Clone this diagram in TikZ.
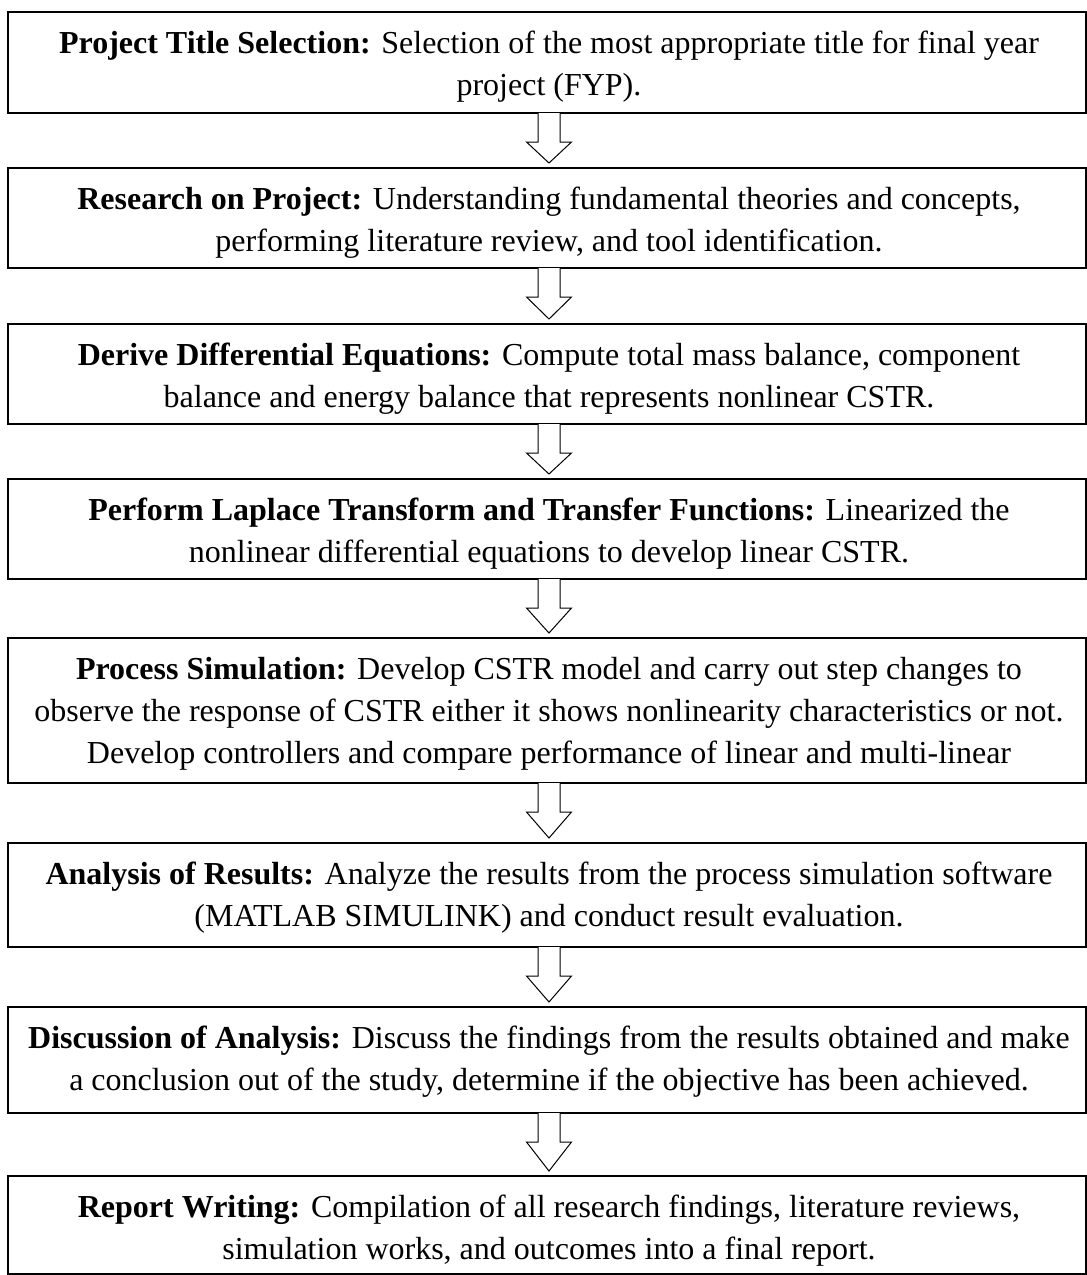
\documentclass[tikz,border=0pt]{standalone}
\usepackage{fontspec}
\setmainfont{Liberation Serif}
\usetikzlibrary{calc}
\tikzset{
  stagebox/.style={draw=black, line width=1pt, fill=none, inner sep=0pt, outer sep=0pt,
    minimum width=539pt, anchor=north west},
  stagetext/.style={align=center, inner sep=0pt, anchor=base,
    font=\fontsize{16pt}{21pt}\selectfont},
  blockarrow/.style={draw=black, line width=0.5pt, fill=white, line join=miter}
}
\newcommand{\flowarrow}[2]{%
  \draw[blockarrow] ($(#1.south)+(-9,0)$) -- ++(0,29) -- ++(-11.5,0)
    -- ($(#2.north)+(2,-5)$) -- ($(#1.south)+(24.5,29)$) -- ++(-11.5,0)
    -- ($(#1.south)+(13,0)$);}
\begin{document}
\begin{tikzpicture}[x=0.5pt, y=-0.5pt]
\useasboundingbox (0,0) rectangle (1087,1275);
\node[stagebox, minimum height=50.5pt] (b1) at (8,12) {};
\node[stagebox, minimum height=50pt] (b2) at (8,168) {};
\node[stagebox, minimum height=50pt] (b3) at (8,324) {};
\node[stagebox, minimum height=50pt] (b4) at (8,479) {};
\node[stagebox, minimum height=72.5pt] (b5) at (8,638) {};
\node[stagebox, minimum height=52pt] (b6) at (8,843) {};
\node[stagebox, minimum height=53pt] (b7) at (8,1007) {};
\node[stagebox, minimum height=49pt] (b8) at (8,1176) {};

\node[stagetext] (t1) at ($(b1.north)+(2,83)$) {\textbf{Project Title Selection:} Selection of the most appropriate title for final year\\project (FYP).};
\node[stagetext] (t2) at ($(b2.north)+(2,83)$) {\textbf{Research on Project:} Understanding fundamental theories and concepts,\\performing literature review, and tool identification.};
\node[stagetext] (t3) at ($(b3.north)+(2,83)$) {\textbf{Derive Differential Equations:} Compute total mass balance, component\\balance and energy balance that represents nonlinear CSTR.};
\node[stagetext] (t4) at ($(b4.north)+(2,83)$) {\textbf{Perform Laplace Transform and Transfer Functions:} Linearized the\\nonlinear differential equations to develop linear CSTR.};
\node[stagetext] (t5) at ($(b5.north)+(2,125)$) {\textbf{Process Simulation:} Develop CSTR model and carry out step changes to\\observe the response of CSTR either it shows nonlinearity characteristics or not.\\Develop controllers and compare performance of linear and multi-linear};
\node[stagetext] (t6) at ($(b6.north)+(2,83)$) {\textbf{Analysis of Results:} Analyze the results from the process simulation software\\(MATLAB SIMULINK) and conduct result evaluation.};
\node[stagetext] (t7) at ($(b7.north)+(2,83)$) {\textbf{Discussion of Analysis:} Discuss the findings from the results obtained and make\\a conclusion out of the study, determine if the objective has been achieved.};
\node[stagetext] (t8) at ($(b8.north)+(2,83)$) {\textbf{Report Writing:} Compilation of all research findings, literature reviews,\\simulation works, and outcomes into a final report.};

\flowarrow{b1}{b2}
\flowarrow{b2}{b3}
\flowarrow{b3}{b4}
\flowarrow{b4}{b5}
\flowarrow{b5}{b6}
\flowarrow{b6}{b7}
\flowarrow{b7}{b8}
\end{tikzpicture}
\end{document}
